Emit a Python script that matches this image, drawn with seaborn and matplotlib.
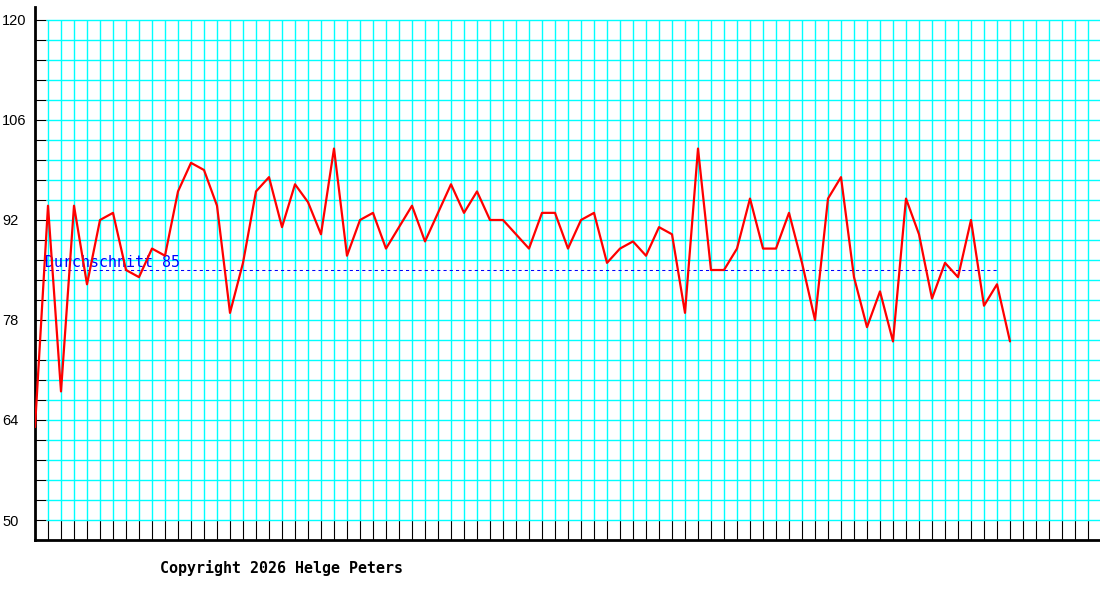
import matplotlib
matplotlib.use("Agg")
import matplotlib.pyplot as plt
import numpy as np
import pandas as pd
import seaborn as sns

werte = [63, 94, 68, 94, 83, 92, 93, 85, 84, 88, 87, 96, 100, 99, 94, 79, 86, 96, 98, 91,
         97, 94.5, 90, 102, 87, 92, 93, 88, 91, 94, 89, 93, 97, 93, 96, 92, 92, 90, 88,
         93, 93, 88, 92, 93, 86, 88, 89, 87, 91, 90, 79, 102, 85, 85, 88, 95, 88, 88, 93,
         86, 78, 95, 98, 84, 77, 82, 75, 95, 90, 81, 86, 84, 92, 80, 83, 75]
durchschnitt = 85
y_labels = [50, 64, 78, 92, 106, 120]
y_schritt = 2.8
n_spalten = 81

df = pd.DataFrame({"tag": np.arange(len(werte)), "wert": werte})

sns.set_style("white")
plt.rcParams["font.family"] = ["Liberation Sans", "DejaVu Sans"]
plt.rcParams["text.color"] = "black"
plt.rcParams["ytick.color"] = "black"
plt.rcParams["xtick.color"] = "black"

fig = plt.figure(figsize=(11, 6), dpi=100)
ax = fig.add_axes([35 / 1100, 60 / 600, 1065 / 1100, 533 / 600])

px_x = 1 / 13.0
px_y = 70 / 500.0
ax.set_xlim(0, 1065 / 13.0)
ax.set_ylim(50 - 20 * px_y, 120 + 13 * px_y)

# Gitter
gitter_y = np.arange(50, 120.01, y_schritt)
ax.hlines(gitter_y, 11 * px_x, 1065 / 13.0, color="#00ffff", lw=1.0, zorder=1)
ax.vlines(np.arange(1, n_spalten + 1), 50, 120, color="#00ffff", lw=1.0, zorder=1)

# Durchschnitt
ax.hlines(durchschnitt, 8 * px_x, len(werte) - 2, color="#0000ff", lw=0.75,
          linestyles=(0, (3, 3)), zorder=2)
ax.text(10 * px_x, durchschnitt + 3 * px_y, f"Durchschnitt {durchschnitt}", color="#0000ff",
        fontsize=10.8, family=["DejaVu Sans Mono"], va="baseline", ha="left", zorder=3)

sns.lineplot(data=df, x="tag", y="wert", color="#ff0000", lw=1.6, ax=ax, zorder=4)

# Achsen
for s in ["top", "right"]:
    ax.spines[s].set_visible(False)
for s in ["left", "bottom"]:
    ax.spines[s].set_linewidth(2)
    ax.spines[s].set_color("black")

ax.set_yticks(y_labels)
ax.set_yticklabels([str(v) for v in y_labels])
ax.set_yticks(gitter_y, minor=True)
ax.tick_params(axis="y", which="both", left=True, direction="in", length=8, width=0.8,
               color="black")
ax.tick_params(axis="y", which="major", pad=23.5, labelsize=10.5, labelcolor="black")
for lab in ax.get_yticklabels():
    lab.set_horizontalalignment("left")

ax.set_xticks(np.arange(1, n_spalten + 1))
ax.set_xticklabels([])
ax.tick_params(axis="x", which="both", bottom=True, direction="in", length=14.4, width=0.8,
               color="black")

ax.set_xlabel("")
ax.set_ylabel("")

fig.text(160 / 1100, 1 - 568 / 600, "Copyright 2026 Helge Peters", fontsize=10.8,
         family=["DejaVu Sans Mono"], weight="bold", va="center", ha="left", color="black")

fig.savefig("out.png", dpi=100, facecolor="white")
